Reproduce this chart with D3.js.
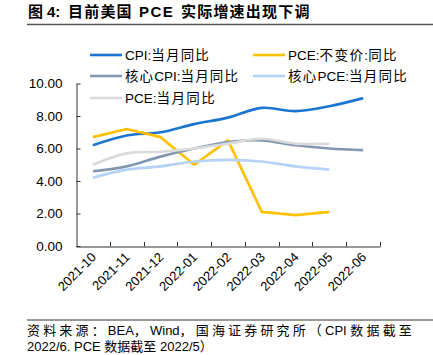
<!DOCTYPE html>
<html><head><meta charset="utf-8">
<script src="https://cdn.jsdelivr.net/npm/d3@7/dist/d3.min.js"></script>
<style>
html,body{margin:0;padding:0;background:#fff;}
svg{display:block;}
text{font-family:"Liberation Sans","Noto Sans CJK SC",Arial,sans-serif;fill:#000;}
</style></head>
<body>
<svg id="c" width="433" height="355"></svg>
<script>
const months = ["2021-10","2021-11","2021-12","2022-01","2022-02","2022-03","2022-04","2022-05","2022-06"];
const cpi      = [6.2, 6.8, 7.0, 7.5, 7.9, 8.5, 8.3, 8.6, 9.1];
const realPce  = [6.7, 7.2, 6.7, 5.0, 6.5, 2.1, 1.9, 2.1];
const coreCpi  = [4.6, 4.9, 5.5, 6.0, 6.4, 6.5, 6.2, 6.0, 5.9];
const corePce  = [4.2, 4.7, 4.9, 5.2, 5.3, 5.2, 4.9, 4.7];
const pce      = [5.0, 5.7, 5.8, 6.0, 6.3, 6.6, 6.3, 6.3];
const yTicks   = [0, 2, 4, 6, 8, 10];

const seriesList = [
  {name:"CPI:当月同比", values:cpi, color:"#1B75D0", smooth:true, lx:90, ly:55, tl:85},
  {name:"PCE:不变价:同比", values:realPce, color:"#FFC000", smooth:false, lx:253, ly:55, tl:110},
  {name:"核心CPI:当月同比", values:coreCpi, color:"#8497B0", smooth:true, lx:90, ly:76, tl:114},
  {name:"核心PCE:当月同比", values:corePce, color:"#B4D3F5", smooth:true, lx:253, ly:76, tl:120},
  {name:"PCE:当月同比", values:pce, color:"#DADADA", smooth:true, lx:90, ly:98, tl:91}
];

const svg = d3.select("#c");

function isCJK(ch){ return /[\u3000-\u303f\u4e00-\u9fff\uff00-\uffef]/.test(ch); }
function richText(x0, y0, str, size, target, weight){
  const runs = [];
  for (const ch of str){
    const c = isCJK(ch);
    if (runs.length && runs[runs.length-1].cjk === c) runs[runs.length-1].t += ch;
    else runs.push({cjk:c, t:ch});
  }
  const t = svg.append("text").attr("x",x0).attr("y",y0).attr("font-size",size)
    .attr("font-weight",weight||"normal");
  const spans = runs.map(r => t.append("tspan").text(r.t).datum(r));
  const w0 = t.node().getComputedTextLength();
  const n = runs.filter(r=>r.cjk).reduce((a,r)=>a+[...r.t].length,0);
  const s = n ? Math.max(0,(target - w0)/n) : 0;
  spans.forEach(sp => { if (sp.datum().cjk) sp.style("letter-spacing", s+"px"); });
  return t;
}

// Title
const title = svg.append("text").attr("y",17).attr("font-size",15).attr("font-weight","bold");
title.append("tspan").attr("x",28).text("图");
title.append("tspan").attr("x",47).text("4:");
title.append("tspan").attr("x",68).style("letter-spacing","1.2px").text("目前美国");
title.append("tspan").attr("x",139).style("letter-spacing","1.5px").text("PCE");
title.append("tspan").attr("x",181).style("letter-spacing","1.2px").text("实际增速出现下调");
svg.append("line").attr("x1",27).attr("x2",433).attr("y1",24.5).attr("y2",24.5)
  .attr("stroke","#555").attr("stroke-width",1.5);

const x = d3.scaleBand().domain(months).range([76,380]);
const y = d3.scaleLinear().domain([0,10]).range([246,83.5]);

// Axes
const yAxis = d3.axisLeft(y).tickValues(yTicks).tickFormat(d3.format(".2f")).tickSizeInner(-4).tickSizeOuter(0).tickPadding(14);
const gy = svg.append("g").attr("transform","translate(76.5,0)").call(yAxis);
gy.select(".domain").attr("stroke","#333");
gy.selectAll(".tick line").attr("stroke","#333");
gy.selectAll(".tick text").attr("font-size",13.5).attr("fill","#000")
  .style("font-family","'Liberation Sans',Arial,sans-serif");

const xAxis = d3.axisBottom(x).tickSizeInner(0).tickSizeOuter(0).tickFormat("");
const gx = svg.append("g").attr("transform","translate(0,246.5)").call(xAxis);
gx.select(".domain").attr("stroke","#333");
gx.selectAll(".tick").remove();
const bounds = months.map(m => x(m)).concat([x(months[months.length-1]) + x.bandwidth()]);
svg.append("g").selectAll("line").data(bounds.slice(1)).join("line")
  .attr("x1",d=>Math.round(d)+0.5).attr("x2",d=>Math.round(d)+0.5)
  .attr("y1",246.5).attr("y2",242)
  .attr("stroke","#333");
svg.append("g").selectAll("text").data(months).join("text")
  .attr("transform",d=>`translate(${x(d)+x.bandwidth()/2+4},${258}) rotate(-45)`)
  .attr("text-anchor","end").attr("font-size",13)
  .text(d=>d);

// Lines
seriesList.forEach(s=>{
  const line = d3.line()
    .x((d,i)=>x(months[i])+x.bandwidth()/2)
    .y(d=>y(d))
    .curve(s.smooth ? d3.curveCatmullRom.alpha(0.5) : d3.curveLinear);
  svg.append("path").datum(s.values).attr("d",line)
    .attr("fill","none").attr("stroke",s.color).attr("stroke-width",2.6)
    .attr("stroke-linejoin","round");
});
// Legend
seriesList.forEach(s=>{
  svg.append("line").attr("x1",s.lx).attr("x2",s.lx+32).attr("y1",s.ly).attr("y2",s.ly)
    .attr("stroke",s.color).attr("stroke-width",2.6);
  richText(s.lx+35, s.ly+5, s.name, 13.5, s.tl);
});

// Footer
svg.append("line").attr("x1",27).attr("x2",433).attr("y1",320).attr("y2",320)
  .attr("stroke","#333").attr("stroke-width",1);
richText(27, 335, "资料来源：BEA，Wind，国海证券研究所（CPI 数据截至", 13, 388);
richText(27, 351, "2022/6. PCE 数据截至 2022/5）", 13, 178);
</script>
</body></html>
